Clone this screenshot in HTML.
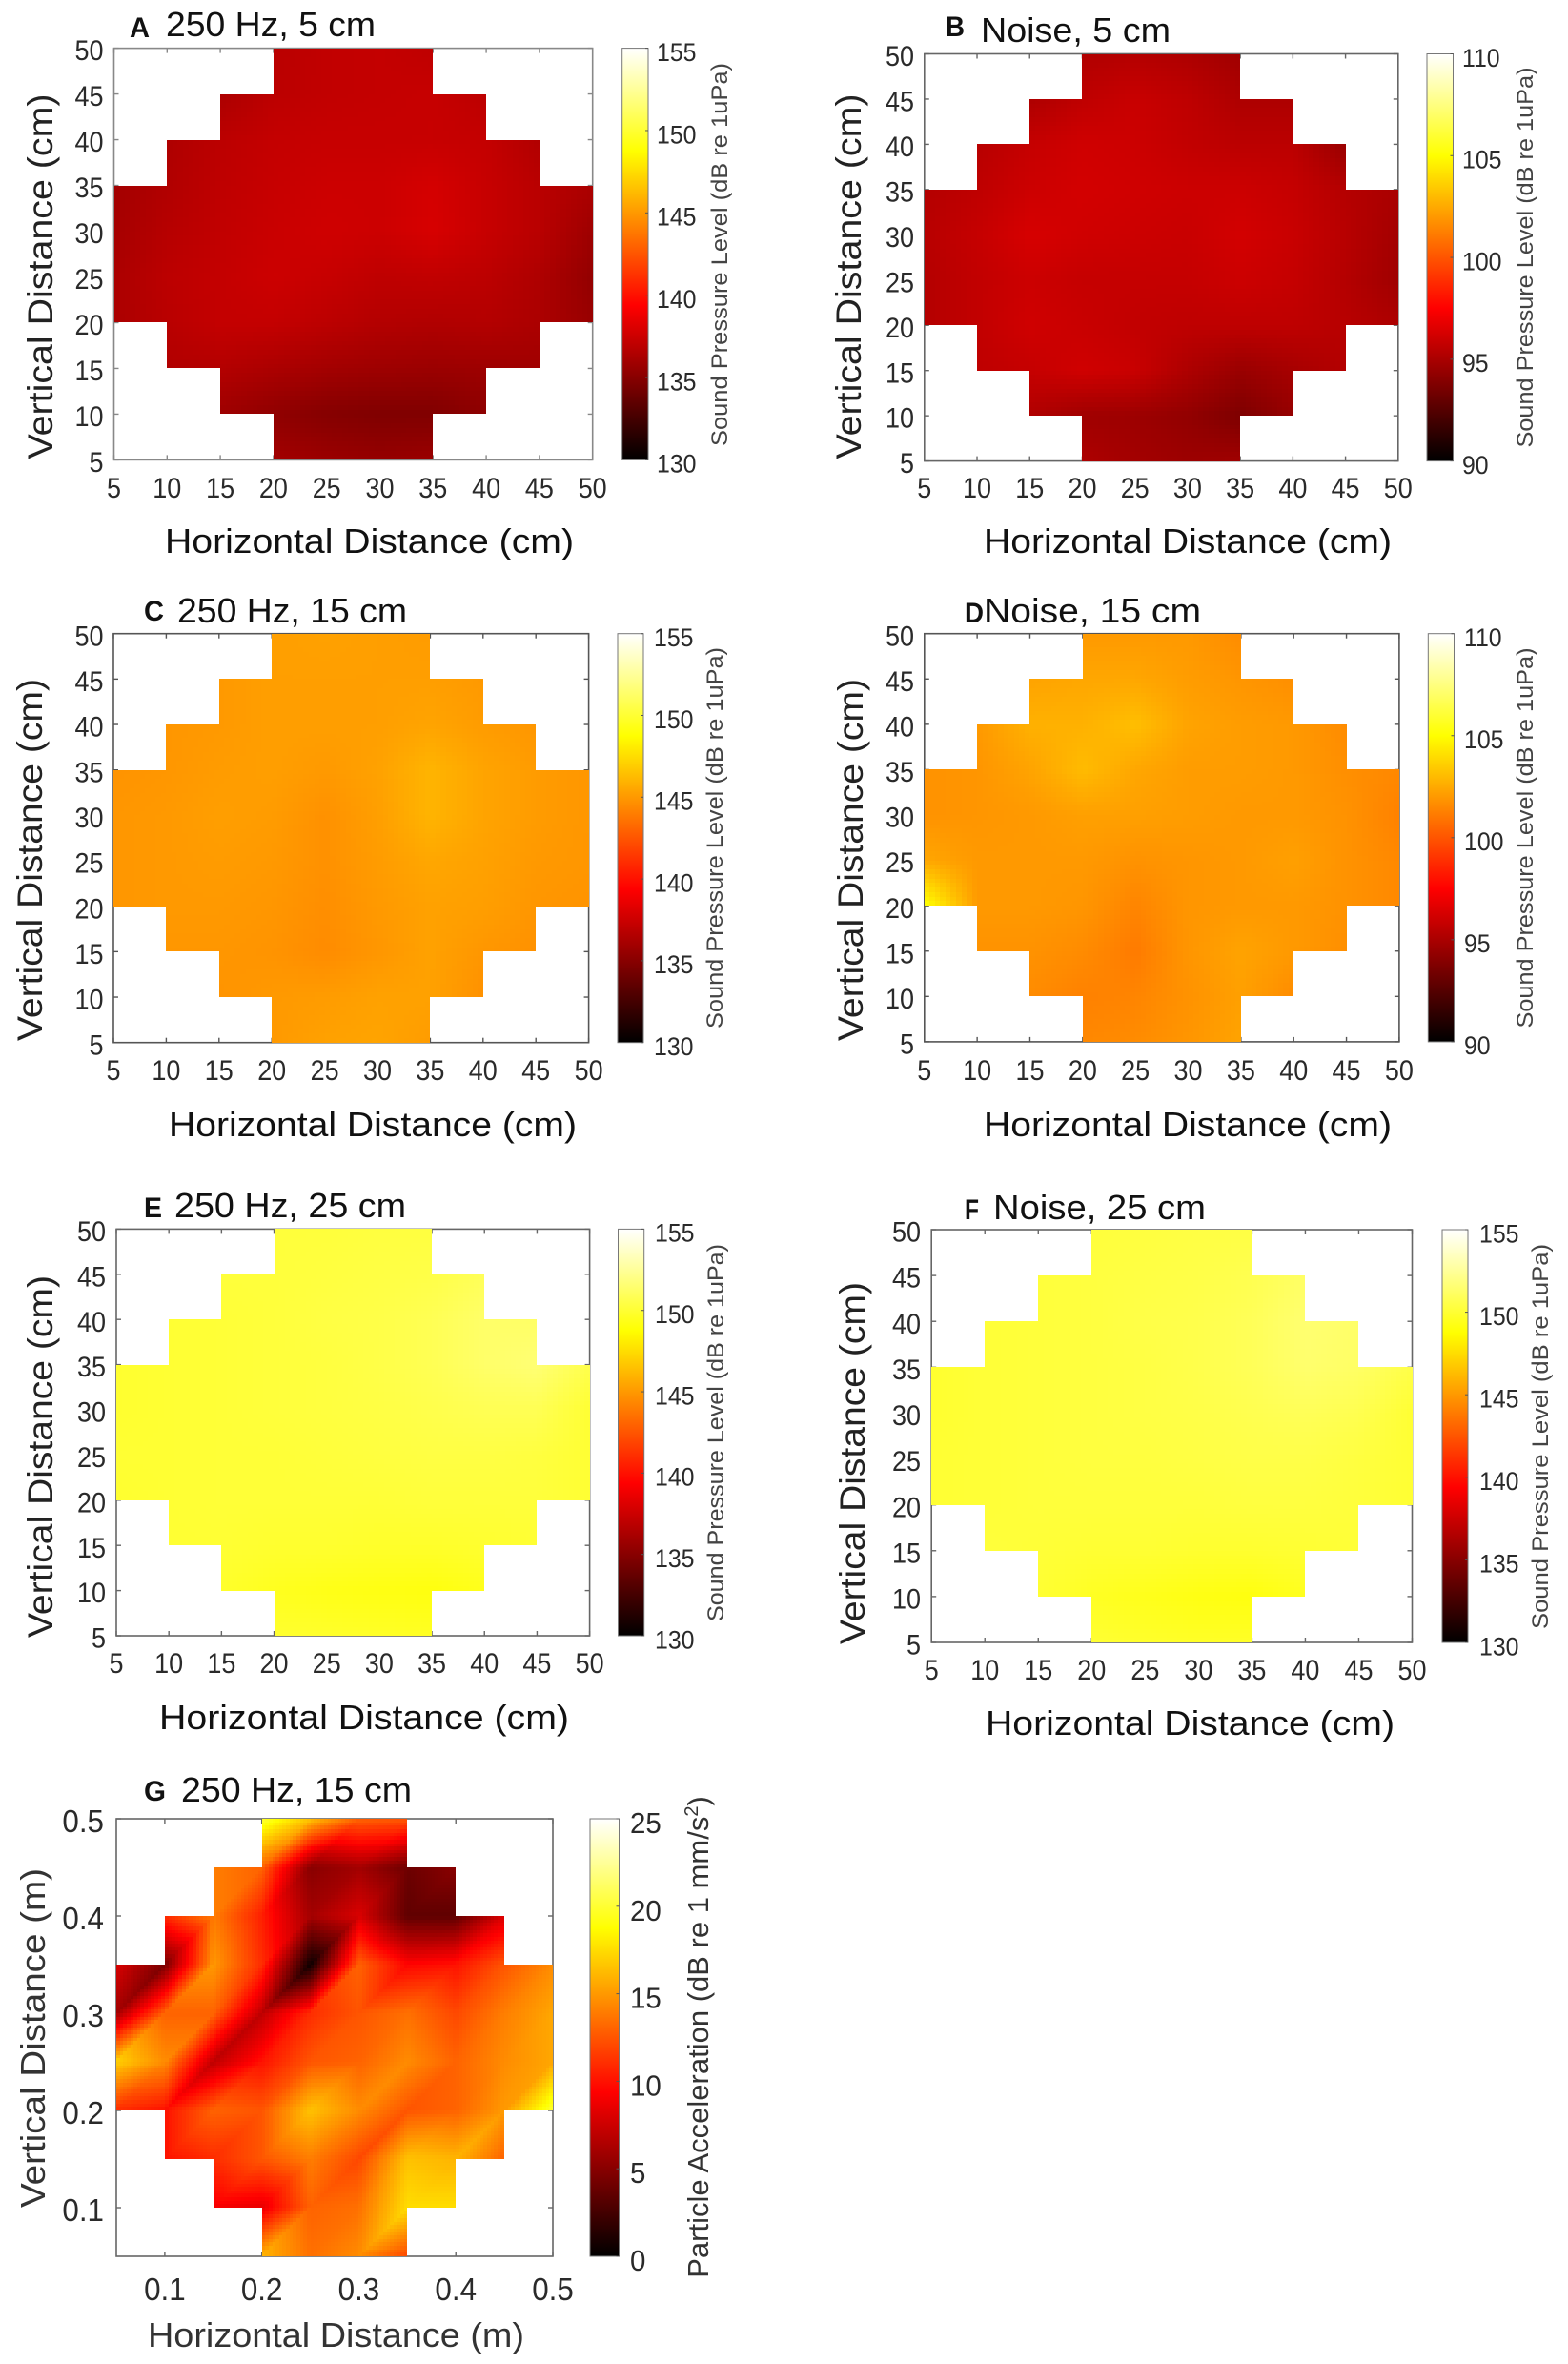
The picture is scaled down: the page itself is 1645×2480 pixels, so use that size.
<!DOCTYPE html>
<html lang="en">
<head>
<meta charset="utf-8">
<title>Sound pressure and particle acceleration maps</title>
<style>
html,body{margin:0;padding:0;background:#fff;}
svg{display:block;}
text{font-family:"Liberation Sans",sans-serif;}
.pl{font-weight:bold;font-size:30px;fill:#111;}
.tt{font-size:36px;fill:#111;}
.xl{font-size:36px;fill:#111;}
.yl{font-size:37px;fill:#222;text-anchor:middle;}
.cl{font-size:24px;fill:#444;text-anchor:middle;}
</style>
</head>
<body>
<svg id="figure" xmlns="http://www.w3.org/2000/svg" width="1645" height="2480" viewBox="0 0 1645 2480">
<defs>
<linearGradient id="hot" x1="0" y1="1" x2="0" y2="0">
<stop offset="0" stop-color="#000000"/>
<stop offset="0.375" stop-color="#ff0000"/>
<stop offset="0.75" stop-color="#ffff00"/>
<stop offset="1" stop-color="#ffffff"/>
</linearGradient>
</defs>
<rect x="0" y="0" width="1645" height="2480" fill="#fff"/>

<g>
<g id="plot-a"></g>
<text class="pl" x="136" y="39" textLength="21" lengthAdjust="spacingAndGlyphs">A</text>
<text class="tt" x="174" y="38" textLength="220" lengthAdjust="spacingAndGlyphs">250 Hz, 5 cm</text>
<text class="xl" x="173" y="580" textLength="429" lengthAdjust="spacingAndGlyphs">Horizontal Distance (cm)</text>
<text class="yl" transform="translate(55,290) rotate(-90)" textLength="383" lengthAdjust="spacingAndGlyphs">Vertical Distance (cm)</text>
<text class="cl" transform="translate(763,267) rotate(-90)" textLength="402" lengthAdjust="spacingAndGlyphs">Sound Pressure Level (dB re 1uPa)</text>
</g>

<g>
<g id="plot-b"></g>
<text class="pl" x="992" y="38" textLength="20" lengthAdjust="spacingAndGlyphs">B</text>
<text class="tt" x="1029" y="44" textLength="199" lengthAdjust="spacingAndGlyphs">Noise, 5 cm</text>
<text class="xl" x="1032" y="580" textLength="428" lengthAdjust="spacingAndGlyphs">Horizontal Distance (cm)</text>
<text class="yl" transform="translate(903,290) rotate(-90)" textLength="383" lengthAdjust="spacingAndGlyphs">Vertical Distance (cm)</text>
<text class="cl" transform="translate(1608,270) rotate(-90)" textLength="399" lengthAdjust="spacingAndGlyphs">Sound Pressure Level (dB re 1uPa)</text>
</g>

<g>
<g id="plot-c"></g>
<text class="pl" x="151" y="651" textLength="21" lengthAdjust="spacingAndGlyphs">C</text>
<text class="tt" x="186" y="653" textLength="241" lengthAdjust="spacingAndGlyphs">250 Hz, 15 cm</text>
<text class="xl" x="177" y="1192" textLength="428" lengthAdjust="spacingAndGlyphs">Horizontal Distance (cm)</text>
<text class="yl" transform="translate(44,902) rotate(-90)" textLength="380" lengthAdjust="spacingAndGlyphs">Vertical Distance (cm)</text>
<text class="cl" transform="translate(758,879) rotate(-90)" textLength="400" lengthAdjust="spacingAndGlyphs">Sound Pressure Level (dB re 1uPa)</text>
</g>

<g>
<g id="plot-d"></g>
<text class="pl" x="1012" y="653" textLength="20" lengthAdjust="spacingAndGlyphs">D</text>
<text class="tt" x="1032" y="653" textLength="228" lengthAdjust="spacingAndGlyphs">Noise, 15 cm</text>
<text class="xl" x="1032" y="1192" textLength="428" lengthAdjust="spacingAndGlyphs">Horizontal Distance (cm)</text>
<text class="yl" transform="translate(905,902) rotate(-90)" textLength="380" lengthAdjust="spacingAndGlyphs">Vertical Distance (cm)</text>
<text class="cl" transform="translate(1608,879) rotate(-90)" textLength="399" lengthAdjust="spacingAndGlyphs">Sound Pressure Level (dB re 1uPa)</text>
</g>

<g>
<g id="plot-e"></g>
<text class="pl" x="151" y="1277" textLength="19" lengthAdjust="spacingAndGlyphs">E</text>
<text class="tt" x="183" y="1277" textLength="243" lengthAdjust="spacingAndGlyphs">250 Hz, 25 cm</text>
<text class="xl" x="167" y="1814" textLength="430" lengthAdjust="spacingAndGlyphs">Horizontal Distance (cm)</text>
<text class="yl" transform="translate(55,1528) rotate(-90)" textLength="380" lengthAdjust="spacingAndGlyphs">Vertical Distance (cm)</text>
<text class="cl" transform="translate(759,1503) rotate(-90)" textLength="396" lengthAdjust="spacingAndGlyphs">Sound Pressure Level (dB re 1uPa)</text>
</g>

<g>
<g id="plot-f"></g>
<text class="pl" x="1012" y="1279" textLength="15" lengthAdjust="spacingAndGlyphs">F</text>
<text class="tt" x="1042" y="1279" textLength="223" lengthAdjust="spacingAndGlyphs">Noise, 25 cm</text>
<text class="xl" x="1034" y="1820" textLength="429" lengthAdjust="spacingAndGlyphs">Horizontal Distance (cm)</text>
<text class="yl" transform="translate(907,1535) rotate(-90)" textLength="380" lengthAdjust="spacingAndGlyphs">Vertical Distance (cm)</text>
<text class="cl" transform="translate(1624,1507) rotate(-90)" textLength="404" lengthAdjust="spacingAndGlyphs">Sound Pressure Level (dB re 1uPa)</text>
</g>

<g>
<g id="plot-g"></g>
<text class="pl" x="151" y="1889" textLength="23" lengthAdjust="spacingAndGlyphs">G</text>
<text class="tt" x="190" y="1890" textLength="242" lengthAdjust="spacingAndGlyphs">250 Hz, 15 cm</text>
<text class="xl" x="155" y="2462" textLength="395" lengthAdjust="spacingAndGlyphs" style="fill:#333">Horizontal Distance (m)</text>
<text class="yl" transform="translate(47,2138) rotate(-90)" textLength="356" lengthAdjust="spacingAndGlyphs" style="fill:#333;font-size:36px">Vertical Distance (m)</text>
<text class="cl" transform="translate(743,2137) rotate(-90)" style="font-size:31px;fill:#333">Particle Acceleration (dB re 1 mm/s<tspan dy="-11" font-size="20">2</tspan><tspan dy="11">)</tspan></text>
</g>
</svg>

<script>
const n = null;

// Axis ticks
const cmTicks = [5, 10, 15, 20, 25, 30, 35, 40, 45, 50];
const meterTicks = [0.1, 0.2, 0.3, 0.4, 0.5];
const grid250Cm = [5, 10, 15, 20, 25, 30, 35, 40, 45, 50];
const gridMeters = [0.05, 0.1, 0.15, 0.2, 0.25, 0.3, 0.35, 0.4, 0.45, 0.5];

// Colorbar ticks
const splHighTicks = [130, 135, 140, 145, 150, 155];
const noiseLowTicks = [90, 95, 100, 105, 110];
const accelTicks = [0, 5, 10, 15, 20, 25];

// Heatmap values in dB, rows from the top of the axis down, columns left to right
const panelAValues = [
 [n,n,n,136.8,137.1,137.2,137,n,n,n],
 [n,n,136.3,136.9,137.1,137.2,137.3,136.9,n,n],
 [n,136.4,136.9,137.2,137.3,137.3,137.3,137.2,136.5,n],
 [136,136.5,137,137.3,137.5,137.5,137.8,137.3,136.8,136.3],
 [136.1,136.7,137.1,137.4,137.6,137.5,137.9,137.3,136.8,135.8],
 [136.3,136.9,137.2,137.5,137.3,137,137.1,136.9,136.4,135.4],
 [136.3,136.8,137.2,137.2,136.9,136.6,136.5,136.6,136.3,135.6],
 [n,136.5,136.6,136.3,136,135.8,135.7,135.8,135.9,n],
 [n,n,135.8,135.3,134.9,134.7,134.7,135.2,n,n],
 [n,n,n,136,135.7,135.5,135.7,n,n,n]
];
const panelBValues = [
 [n,n,n,95.2,95.3,95.1,94.7,n,n,n],
 [n,n,95.1,95.6,95.9,95.6,95.1,95.1,n,n],
 [n,95.4,95.8,96.1,96,95.7,95.5,95.5,94.5,n],
 [95.3,95.6,96,96.2,96.1,96,96,95.8,95.3,95],
 [95.4,95.8,96.3,96.1,96,95.9,96.2,95.9,95.4,94.8],
 [95.3,95.7,96,95.8,95.8,95.8,96,95.8,95.3,94.7],
 [95.3,95.7,96.1,95.9,95.7,95.6,95.6,95.6,95.4,95.1],
 [n,95.6,95.8,96.1,95.9,95.1,94.5,94.9,95.3,n],
 [n,n,95.2,94.7,94.6,94.3,93.7,94.4,n,n],
 [n,n,n,95.1,94.8,94.6,94.7,n,n,n]
];
const panelCValues = [
 [n,n,n,145.2,145.3,145.2,145.1,n,n,n],
 [n,n,145,145.2,145.2,145.2,145.2,145,n,n],
 [n,144.9,145,145.2,145.2,145.2,145.4,145.1,144.9,n],
 [144.8,144.9,145.1,145.2,145,145.3,146,145.4,145.1,144.9],
 [144.9,145,145.2,145.1,144.7,145.2,146,145.4,145.1,144.9],
 [144.9,145,145.1,145,144.7,145.1,145.5,145.3,145,144.9],
 [144.9,145,145,144.9,144.6,145,145.3,145.2,144.9,144.8],
 [n,144.9,144.9,144.8,144.5,144.9,145.3,144.9,144.7,n],
 [n,n,144.8,145,145.1,145.3,145.3,144.7,n,n],
 [n,n,n,145,145.3,145.4,145.1,n,n,n]
];
const panelDValues = [
 [n,n,n,102,102,102,101.6,n,n,n],
 [n,n,102.3,102.4,102.4,102.1,101.9,101.7,n,n],
 [n,102,102.7,102.7,103.1,102.3,102.1,102,101.6,n],
 [101.8,101.9,102.3,103,102.4,102.1,102.1,102,101.7,101.5],
 [101.8,101.9,102,102.2,102.2,102.1,102,102,101.8,101.3],
 [102.4,102,102,102,101.8,101.9,102,102.2,101.8,101.5],
 [105.2,102,102,101.9,101.4,101.9,102,102,101.8,101.5],
 [n,101.8,101.8,101.6,101.1,101.9,102.3,102,101.7,n],
 [n,n,101.6,101.3,101.4,101.8,102.2,101.6,n,n],
 [n,n,n,101.5,101.6,101.9,102.3,n,n,n]
];
const panelEValues = [
 [n,n,n,150.2,150.2,150.3,150.3,n,n,n],
 [n,n,150.2,150.2,150.3,150.4,150.5,150.9,n,n],
 [n,150,150.1,150.2,150.4,150.5,150.8,151.3,151.2,n],
 [149.9,150,150.1,150.2,150.3,150.5,150.8,151.3,151.6,150.6],
 [149.9,150,150.1,150.2,150.3,150.4,150.6,150.8,150.8,150],
 [150,150,150.1,150.1,150.2,150.3,150.4,150.4,150.3,150],
 [149.9,150,150.1,150.1,150.1,150.1,150.2,150.2,150.2,150],
 [n,150,150,149.9,149.9,149.8,149.8,149.9,150,n],
 [n,n,149.8,149.5,149.3,149.2,149.1,149.4,n,n],
 [n,n,n,149.9,149.8,149.7,149.6,n,n,n]
];
const panelFValues = [
 [n,n,n,150.2,150.3,150.4,150.4,n,n,n],
 [n,n,150.2,150.3,150.4,150.5,150.7,151.2,n,n],
 [n,150.1,150.2,150.3,150.5,150.6,150.9,151.5,151.3,n],
 [149.9,150.1,150.2,150.3,150.4,150.6,150.9,151.4,151.2,150.5],
 [149.9,150.1,150.2,150.3,150.4,150.5,150.7,150.9,150.7,150],
 [150,150.1,150.2,150.3,150.3,150.4,150.5,150.5,150.3,150],
 [150,150.1,150.2,150.2,150.2,150.2,150.3,150.3,150.2,150],
 [n,150.2,150.1,150,150,149.9,149.9,150,150.1,n],
 [n,n,150,149.6,149.4,149.2,149.1,149.5,n,n],
 [n,n,n,150,149.8,149.7,149.7,n,n,n]
];
const panelGValues = [
 [n,n,n,20,16.5,13,12.5,n,n,n],
 [n,n,14,13,5,6,4,5,n,n],
 [n,11,14,10.5,6,8,3.5,3.5,8,n],
 [8,4.5,15,11,0.5,13,9.5,10,12.5,14.5],
 [6,13,13,7,11,12.5,13.5,12,14,15.5],
 [17,14.5,7,10,12.5,13,14.5,13,14.5,15.5],
 [11,10,13,12.5,16.5,14.5,12.5,13,15,20],
 [n,10,11,12.5,14,12,16.5,16,13,n],
 [n,n,9,8.5,13,13.5,17.5,17.5,n,n],
 [n,n,n,16,13.5,14.5,12,n,n,n]
];

const SVG_NS = 'http://www.w3.org/2000/svg';

function hot(t) {
  t = Math.max(0, Math.min(1, t));
  const r = Math.min(1, t / 0.375);
  const g = Math.max(0, Math.min(1, (t - 0.375) / 0.375));
  const b = Math.max(0, (t - 0.75) / 0.25);
  return 'rgb(' + Math.round(r * 255) + ',' + Math.round(g * 255) + ',' + Math.round(b * 255) + ')';
}

function makeLine(parent, x1, y1, x2, y2, stroke, width, name) {
  const el = document.createElementNS(SVG_NS, 'line');
  el.setAttribute('x1', x1);
  el.setAttribute('y1', y1);
  el.setAttribute('x2', x2);
  el.setAttribute('y2', y2);
  el.setAttribute('stroke', stroke);
  el.setAttribute('stroke-width', width);
  
  
  parent.appendChild(el);
}

function makeLabel(parent, x, y, str, size, anchor, fill, squeeze, name) {
  const el = document.createElementNS(SVG_NS, 'text');
  el.setAttribute('x', x);
  el.setAttribute('y', y);
  el.setAttribute('font-size', size);
  el.setAttribute('text-anchor', anchor);
  el.setAttribute('fill', fill);
  el.textContent = str;
  
  
  parent.appendChild(el);
  const natural = el.getComputedTextLength();
  el.setAttribute('textLength', (natural * squeeze).toFixed(1));
  el.setAttribute('lengthAdjust', 'spacingAndGlyphs');
}

function drawPanel(p) {
  const g = document.getElementById('plot-' + p.id);
  const xs = p.grid, ys = p.grid;
  const lo = xs[0], hi = xs[xs.length - 1];
  const sx = v => p.left + (v - lo) / (hi - lo) * (p.right - p.left);
  const sy = v => p.bottom - (v - lo) / (hi - lo) * (p.bottom - p.top);
  const color = v => hot((v - p.vmin) / (p.vmax - p.vmin));

  // axes box, beneath the heatmap
  const box = document.createElementNS(SVG_NS, 'rect');
  box.setAttribute('x', p.left);
  box.setAttribute('y', p.top);
  box.setAttribute('width', p.right - p.left);
  box.setAttribute('height', p.bottom - p.top);
  box.setAttribute('fill', '#fff');
  box.setAttribute('stroke', p.axisColor);
  box.setAttribute('stroke-width', 1.6);
  
  
  g.appendChild(box);

  p.ticks.forEach(t => {
    const tx = sx(t), ty = sy(t);
    makeLine(g, tx, p.bottom, tx, p.bottom - 5, p.axisColor, 1.4, 'x-tick');
    makeLine(g, tx, p.top, tx, p.top + 5, p.axisColor, 1.4, 'x-tick-top');
    makeLine(g, p.left, ty, p.left + 5, ty, p.axisColor, 1.4, 'y-tick');
    makeLine(g, p.right, ty, p.right - 5, ty, p.axisColor, 1.4, 'y-tick-right');
    makeLabel(g, tx, p.xTickBase, String(t), p.tickSize, 'middle', '#2a2a2a', p.tickSqueeze, 'x-tick-label');
    makeLabel(g, p.yTickRight, ty + p.tickSize * 0.42, String(t), p.tickSize, 'end', '#2a2a2a', p.tickSqueeze, 'y-tick-label');
  });

  // heatmap cells: sub-sampled from the node values
  const rows = p.values;
  for (let r = 0; r < rows.length - 1; r++) {
    for (let c = 0; c < rows[r].length - 1; c++) {
      const tl = rows[r][c], tr = rows[r][c + 1], bl = rows[r + 1][c], br = rows[r + 1][c + 1];
      if (tl === null || tr === null || bl === null || br === null) continue;
      const x0 = sx(xs[c]), x1 = sx(xs[c + 1]);
      const y0 = sy(ys[ys.length - 1 - r]), y1 = sy(ys[ys.length - 2 - r]);
      for (let i = 0; i < p.sub; i++) {
        for (let j = 0; j < p.sub; j++) {
          const u = (i + 0.5) / p.sub, v = 1 - (j + 0.5) / p.sub;
          let val;
          if (p.triangles) {
            val = v <= u ? (1 - u) * bl + (u - v) * br + v * tr
                         : (1 - v) * bl + u * tr + (v - u) * tl;
          } else {
            val = (1 - u) * (1 - v) * bl + u * (1 - v) * br + (1 - u) * v * tl + u * v * tr;
          }
          const rx0 = Math.round(x0 + (x1 - x0) * i / p.sub);
          const rx1 = Math.round(x0 + (x1 - x0) * (i + 1) / p.sub);
          const ry0 = Math.round(y0 + (y1 - y0) * j / p.sub);
          const ry1 = Math.round(y0 + (y1 - y0) * (j + 1) / p.sub);
          const cell = document.createElementNS(SVG_NS, 'rect');
          cell.setAttribute('x', rx0);
          cell.setAttribute('y', ry0);
          cell.setAttribute('width', rx1 - rx0);
          cell.setAttribute('height', ry1 - ry0);
          cell.setAttribute('fill', color(val));
          cell.setAttribute('shape-rendering', 'crispEdges');
          
          
          g.appendChild(cell);
        }
      }
    }
  }

  // colorbar
  const bar = document.createElementNS(SVG_NS, 'rect');
  bar.setAttribute('x', p.barLeft);
  bar.setAttribute('y', p.top);
  bar.setAttribute('width', p.barRight - p.barLeft);
  bar.setAttribute('height', p.bottom - p.top);
  bar.setAttribute('fill', 'url(#hot)');
  bar.setAttribute('stroke', '#777');
  bar.setAttribute('stroke-width', 1);
  
  
  g.appendChild(bar);
  p.barTicks.forEach(t => {
    const ty = p.bottom - (t - p.vmin) / (p.vmax - p.vmin) * (p.bottom - p.top);
    makeLine(g, p.barRight - 3, ty, p.barRight, ty, '#555', 1, 'colorbar-tick');
    makeLabel(g, p.barLabelLeft, ty + p.barSize * 0.42 + 2, String(t), p.barSize, 'start', '#2a2a2a', p.barSqueeze, 'colorbar-tick-label');
  });
}

drawPanel({id:'a',values:panelAValues,grid:grid250Cm,ticks:cmTicks,barTicks:splHighTicks,vmin:130,vmax:155,left:119.5,right:621.7,top:50.6,bottom:482.4,barLeft:652.7,barRight:680,barLabelLeft:689,xTickBase:522,yTickRight:108.5,tickSize:30,tickSqueeze:0.9,barSize:27,barSqueeze:0.92,sub:10,triangles:false,axisColor:'#888'});
drawPanel({id:'b',values:panelBValues,grid:grid250Cm,ticks:cmTicks,barTicks:noiseLowTicks,vmin:90,vmax:110,left:969.8,right:1466.8,top:56.5,bottom:483.6,barLeft:1497,barRight:1524.5,barLabelLeft:1534,xTickBase:522,yTickRight:959,tickSize:30,tickSqueeze:0.9,barSize:27,barSqueeze:0.92,sub:10,triangles:false,axisColor:'#666'});
drawPanel({id:'c',values:panelCValues,grid:grid250Cm,ticks:cmTicks,barTicks:splHighTicks,vmin:130,vmax:155,left:119,right:617.6,top:664.7,bottom:1093.7,barLeft:648,barRight:675,barLabelLeft:686,xTickBase:1133,yTickRight:108.5,tickSize:30,tickSqueeze:0.9,barSize:27,barSqueeze:0.92,sub:10,triangles:false,axisColor:'#555'});
drawPanel({id:'d',values:panelDValues,grid:grid250Cm,ticks:cmTicks,barTicks:noiseLowTicks,vmin:90,vmax:110,left:969.8,right:1467.9,top:664.7,bottom:1092.9,barLeft:1498.3,barRight:1525.5,barLabelLeft:1536,xTickBase:1133,yTickRight:959,tickSize:30,tickSqueeze:0.9,barSize:27,barSqueeze:0.92,sub:10,triangles:false,axisColor:'#555'});
drawPanel({id:'e',values:panelEValues,grid:grid250Cm,ticks:cmTicks,barTicks:splHighTicks,vmin:130,vmax:155,left:122,right:618.6,top:1289.4,bottom:1716,barLeft:648.5,barRight:675.7,barLabelLeft:687,xTickBase:1755,yTickRight:111,tickSize:30,tickSqueeze:0.9,barSize:27,barSqueeze:0.92,sub:10,triangles:false,axisColor:'#666'});
drawPanel({id:'f',values:panelFValues,grid:grid250Cm,ticks:cmTicks,barTicks:splHighTicks,vmin:130,vmax:155,left:977.2,right:1481.5,top:1290,bottom:1723,barLeft:1513,barRight:1540,barLabelLeft:1552,xTickBase:1762,yTickRight:966,tickSize:30,tickSqueeze:0.9,barSize:27,barSqueeze:0.92,sub:10,triangles:false,axisColor:'#666'});
drawPanel({id:'g',values:panelGValues,grid:gridMeters,ticks:meterTicks,barTicks:accelTicks,vmin:0,vmax:25,left:122,right:580,top:1908,bottom:2367,barLeft:619,barRight:649.5,barLabelLeft:661,xTickBase:2413,yTickRight:109,tickSize:33,tickSqueeze:0.95,barSize:31,barSqueeze:0.95,sub:14,triangles:true,axisColor:'#666'});
</script>
</body>
</html>
